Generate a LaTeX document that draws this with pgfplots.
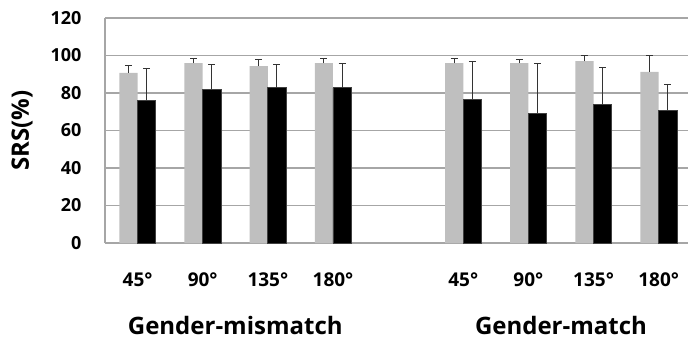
\documentclass[border=0pt]{standalone}
\usepackage{fontspec}
\setmainfont{Open Sans}
\usepackage{pgfplots}
\usepackage{pgfplotstable}
\pgfplotsset{compat=1.18}
\definecolor{bargray}{HTML}{BFBFBF}
\definecolor{gridgray}{HTML}{A6A6A6}
\pgfplotstableread{
x y e
-0.14 90.7 4.0
0.86 95.9 2.7
1.86 94.3 3.7
2.86 95.9 2.3
4.86 95.9 2.7
5.86 95.9 2.0
6.86 97.0 3.0
7.86 91.3 8.7
}\graytab
\pgfplotstableread{
x y e
0.14 76.1 16.8
1.14 82.1 13.2
2.14 82.8 12.5
3.14 82.8 13.1
5.14 76.6 20.2
6.14 69.3 26.4
7.14 73.8 19.6
8.14 70.9 13.5
}\blacktab
\begin{document}
\begin{tikzpicture}
\begin{axis}[
  scale only axis,
  width=583bp, height=225bp,
  xmin=-0.5, xmax=8.45,
  ymin=0, ymax=120,
  ytick={0,20,...,120},
  xtick={0,1,2,3,5,6,7,8},
  xticklabels={45°,90°,135°,180°,45°,90°,135°,180°},
  major tick length=0pt,
  axis x line*=bottom, axis y line*=left,
  axis line style={gridgray, line width=1.2bp},
  x axis line style={line width=2bp},
  ymajorgrids,
  grid style={gridgray, line width=1.2bp},
  /pgf/number format/assume math mode=true,
  yticklabel style={font=\bfseries\fontsize{18bp}{20bp}\selectfont, anchor=east, xshift=-20bp},
  xticklabel style={font=\bfseries\fontsize{19bp}{22bp}\selectfont, anchor=center, yshift=-37bp},
  ybar, bar width=0.28, bar shift=0pt,
  clip=false,
]
\addplot[fill=bargray, draw=none,
  error bars/.cd, y dir=plus, y explicit,
  error bar style={line width=1bp, black!80},
  error mark options={rotate=90, mark size=3.5bp, line width=1bp, black!80}]
  table[x=x, y=y, y error=e] {\graytab};
\addplot[fill=black, draw=black!75, line width=0.8bp,
  error bars/.cd, y dir=plus, y explicit,
  error bar style={line width=1bp, black!80},
  error mark options={rotate=90, mark size=3.5bp, line width=1bp, black!80}]
  table[x=x, y=y, y error=e] {\blacktab};
\coordinate (ll) at (rel axis cs:0,0);
\coordinate (ur) at (rel axis cs:1,1);
\node[font=\bfseries\fontsize{24bp}{28bp}\selectfont] at ([yshift=-82bp]axis cs:1.5,0) {Gender-mismatch};
\node[font=\bfseries\fontsize{24bp}{28bp}\selectfont] at ([yshift=-82bp]axis cs:6.5,0) {Gender-match};
\node[font=\bfseries\fontsize{24bp}{28bp}\selectfont, rotate=90] at ([xshift=-83bp]rel axis cs:0,0.5) {SRS(\%)};
\end{axis}
\pgfresetboundingbox
\path[use as bounding box] ([xshift=-105bp,yshift=-100bp]ll) rectangle ([yshift=18bp]ur);
\end{tikzpicture}
\end{document}
